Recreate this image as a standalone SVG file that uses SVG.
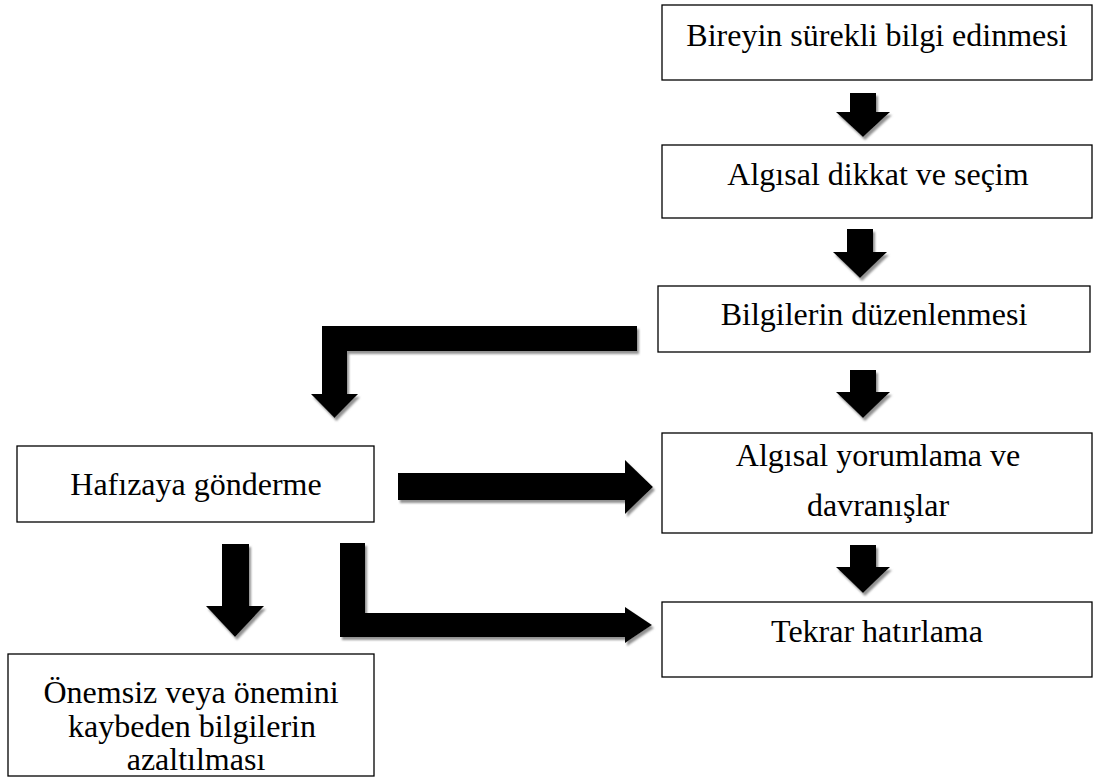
<svg xmlns="http://www.w3.org/2000/svg" width="1093" height="777" viewBox="0 0 1093 777">
  <defs>
    <style>
      .box { fill: #fff; stroke: #000; stroke-width: 1.3; }
      .lbl { font-family: "Liberation Serif", "Times New Roman", serif; font-size: 32px; fill: #000; text-anchor: middle; }
      .arrow { fill: #000; filter: url(#shadow); }
    </style>
    <filter id="shadow" x="-10%" y="-10%" width="130%" height="130%">
      <feDropShadow dx="2" dy="3" stdDeviation="1" flood-color="#7f7f7f" flood-opacity="0.85"/>
    </filter>
  </defs>
  <rect width="1093" height="777" fill="#fff"/>

  <g id="connectors">
    <!-- box1 -> box2 -->
    <path class="arrow" d="M850,93 H876 V112 H890 L863,137 L836,112 H850 Z"/>
    <!-- box2 -> box3 -->
    <path class="arrow" d="M847,229 H873 V252 H887 L860,278 L833,252 H847 Z"/>
    <!-- box3 -> box4 -->
    <path class="arrow" d="M850,370 H876 V392 H890 L863,418 L836,392 H850 Z"/>
    <!-- box4 -> box5 -->
    <path class="arrow" d="M850,545 H876 V567 H890 L863,593 L836,567 H850 Z"/>
    <!-- box3 -> hafiza (bent) -->
    <path class="arrow" d="M637,326 V351 H347 V394 H358 L334.5,418 L311,394 H322 V326 Z"/>
    <!-- hafiza -> box4 -->
    <path class="arrow" d="M398,473 H625 V460 L653,487 L625,514 V500 H398 Z"/>
    <!-- hafiza -> onemsiz -->
    <path class="arrow" d="M222,544 H249 V606 H264 L235,637 L206,606 H222 Z"/>
    <!-- hafiza -> tekrar (L) -->
    <path class="arrow" d="M340,543 H365 V613 H625 V607 L652,625 L625,643 V637 H340 Z"/>
  </g>

  <g id="node-bireyin">
    <rect class="box" x="662" y="5" width="430" height="75"/>
    <text class="lbl" x="877" y="46">Bireyin sürekli bilgi edinmesi</text>
  </g>
  <g id="node-algisal-dikkat">
    <rect class="box" x="662" y="145" width="430" height="73"/>
    <text class="lbl" x="878" y="185">Algısal dikkat ve seçim</text>
  </g>
  <g id="node-bilgilerin">
    <rect class="box" x="658" y="286" width="432" height="66"/>
    <text class="lbl" x="874" y="325">Bilgilerin düzenlenmesi</text>
  </g>
  <g id="node-algisal-yorumlama">
    <rect class="box" x="662" y="433" width="430" height="100"/>
    <text class="lbl" x="878" y="466">Algısal yorumlama ve</text>
    <text class="lbl" x="878" y="516">davranışlar</text>
  </g>
  <g id="node-tekrar">
    <rect class="box" x="662" y="602" width="430" height="75"/>
    <text class="lbl" x="877" y="642">Tekrar hatırlama</text>
  </g>
  <g id="node-hafiza">
    <rect class="box" x="17" y="446" width="357" height="76"/>
    <text class="lbl" x="196" y="495">Hafızaya gönderme</text>
  </g>
  <g id="node-onemsiz">
    <rect class="box" x="8" y="654" width="366" height="122"/>
    <text class="lbl" x="191" y="703">Önemsiz veya önemini</text>
    <text class="lbl" x="192" y="737">kaybeden bilgilerin</text>
    <text class="lbl" x="196" y="770">azaltılması</text>
  </g>
</svg>
